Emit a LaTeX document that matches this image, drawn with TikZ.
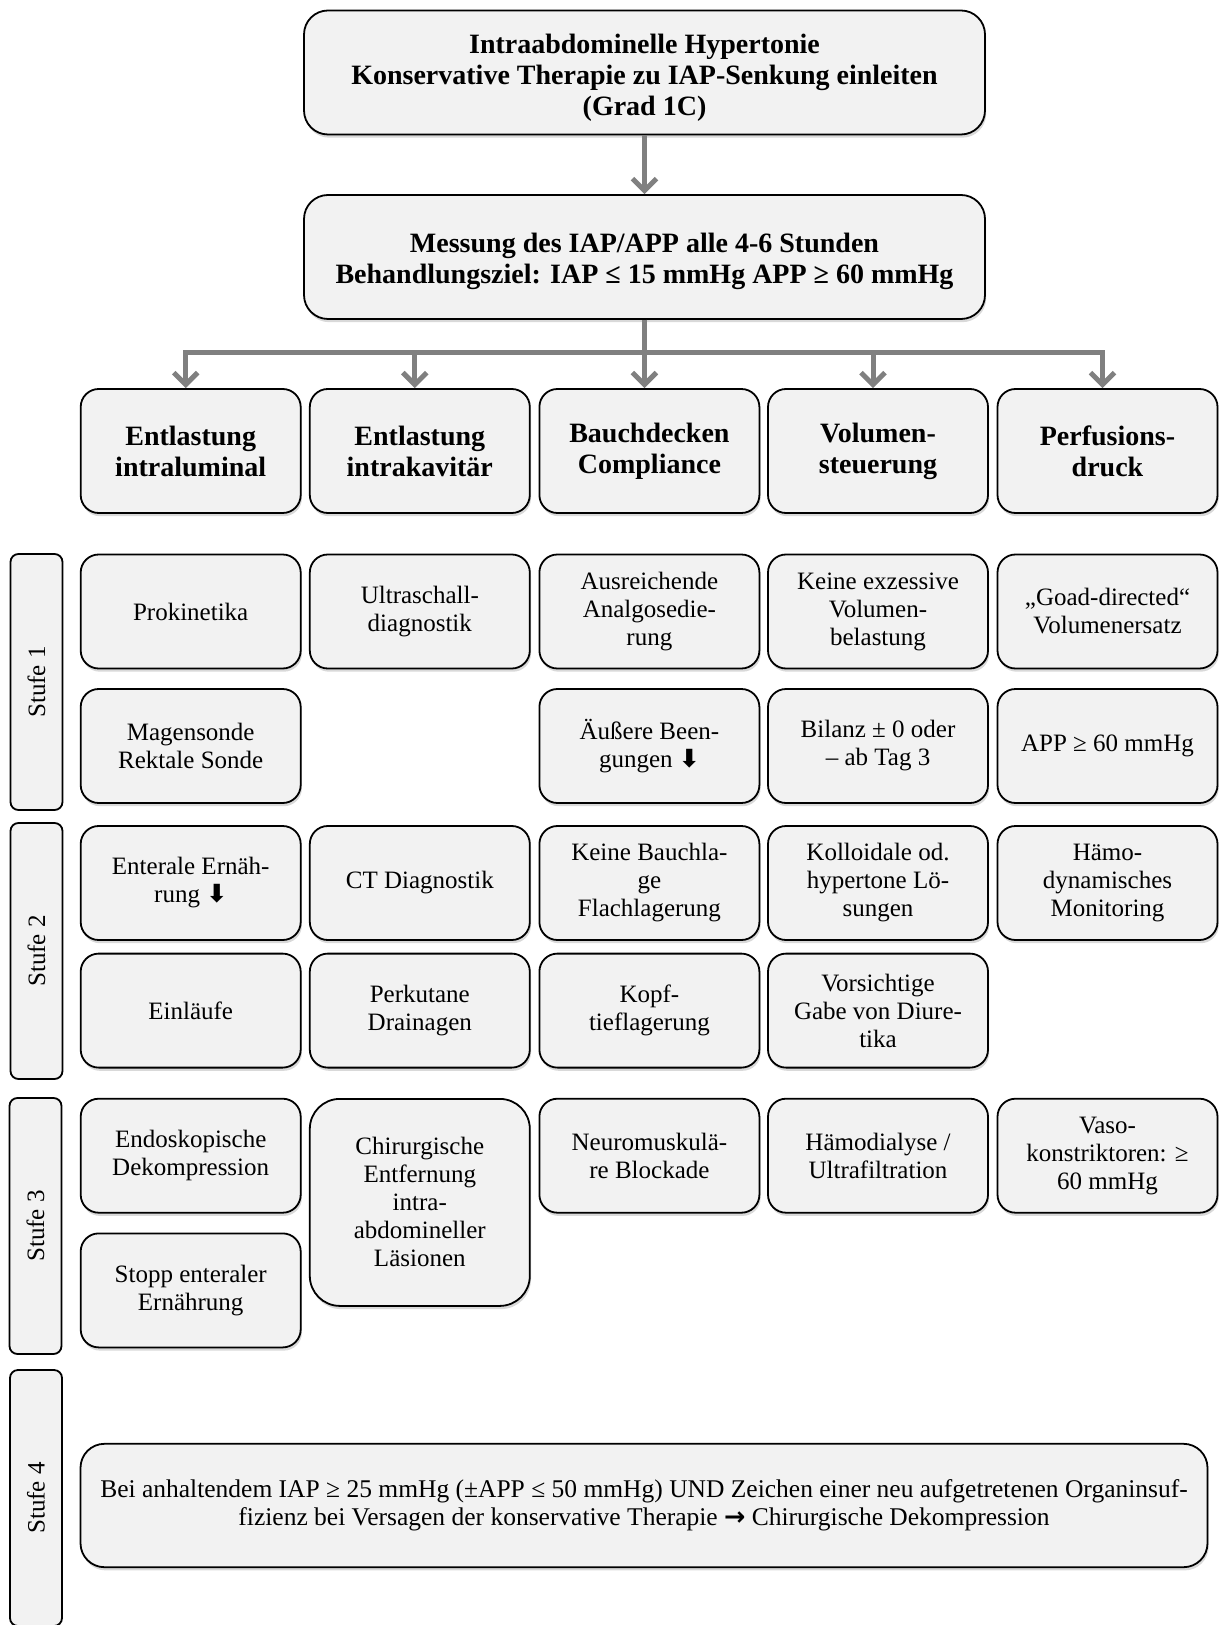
\documentclass[tikz,border=0pt]{standalone}
\usepackage{fontspec}
\setmainfont{Liberation Serif}
\newfontfamily\arrowfont{DejaVu Sans}
\usetikzlibrary{arrows.meta,positioning,shadows}

\definecolor{boxfill}{HTML}{F2F2F2}
\definecolor{linkgray}{HTML}{808080}

\newcommand{\dnarrow}{{\arrowfont\bfseries ⬇}}
\newcommand{\rtarrow}{{\arrowfont\bfseries →}}

\begin{document}
\begin{tikzpicture}[
  x=0.5pt, y=-0.5pt,
  font=\fontsize{12.5}{14}\selectfont,
  cell/.style={draw=black, fill=boxfill, line width=0.9pt, rounded corners=9pt,
               minimum width=110pt, minimum height=57pt, align=center,
               inner sep=2pt,
               drop shadow={shadow xshift=0.6pt, shadow yshift=-1.6pt,
                            opacity=0.3}},
  hdr/.style={cell, minimum height=62pt,
              font=\fontsize{14}{15.5}\selectfont\bfseries},
  titlebox/.style={hdr, minimum width=340.5pt, rounded corners=12pt},
  stage/.style={draw=black, fill=boxfill, line width=0.9pt, rounded corners=4pt,
                minimum width=128pt, minimum height=26pt, inner sep=1pt,
                rotate=90},
  link/.style={-{Straight Barb[length=6pt, width=12pt]}, linkgray,
               line width=2.5pt},
]
\useasboundingbox (0,0) rectangle (1220,1625);
\clip (0,0) rectangle (1220,1625);

% ---------------- title and measurement ---------------------------------
\node[titlebox, text height=46pt] (ttl) at (644.5, 72.5)
  {Intraabdominelle Hypertonie\\Konservative Therapie zu IAP-Senkung einleiten\\(Grad 1C)};
\node[titlebox, text height=29.5pt] (meas) at (644.5, 257)
  {Messung des IAP/APP alle 4-6 Stunden\\Behandlungsziel: IAP ≤ 15 mmHg APP ≥ 60 mmHg};

% ---------------- column heads ------------------------------------------
\foreach \c/\x/\t in {1/190.7/{Entlastung\\intraluminal},
                      2/419.8/{Entlastung\\intrakavitär},
                      3/649.4/{Bauchdecken\\Compliance},
                      4/878.0/{Volumen-\\steuerung},
                      5/1107.5/{Perfusions-\\druck}} {
  \node[hdr] (h\c) at (\x, 451) {\t};
}

% ---------------- arrows ------------------------------------------------
\draw[link] (ttl) -- (meas);
\foreach \c in {1,...,5} {
  \draw[link] (meas.south) -- ++(0, 33) -| ([xshift=-2.5pt]h\c.north);
}

% ---------------- stage labels ------------------------------------------
\node[stage] (st1) at (36.5, 682) {Stufe 1};
\node[stage] (st2) at (36.5, 951) {Stufe 2};
\node[stage] (st3) at (35.5, 1226) {Stufe 3};
\node[stage] (st4) at (36, 1498) {Stufe 4};

% ---------------- Stufe 1 -----------------------------------------------
\node[cell] (a1) at (190.7, 611.5) {Prokinetika};
\node[cell] (a2) at (419.8, 611.5) {Ultraschall-\\diagnostik};
\node[cell] (a3) at (649.4, 611.5) {Ausreichende\\Analgosedie-\\rung};
\node[cell] (a4) at (878.0, 611.5) {Keine exzessive\\Volumen-\\belastung};
\node[cell] (a5) at (1107.5, 611.5) {„Goad-directed“\\Volumenersatz};

\node[cell] (b1) at (190.7, 746) {Magensonde\\Rektale Sonde};
\node[cell] (b3) at (649.4, 746) {Äußere Been-\\gungen \dnarrow};
\node[cell] (b4) at (878.0, 746) {Bilanz ± 0 oder\\– ab Tag 3};
\node[cell] (b5) at (1107.5, 746) {APP ≥ 60 mmHg};

% ---------------- Stufe 2 -----------------------------------------------
\node[cell] (c1) at (190.7, 883) {Enterale Ernäh-\\rung \dnarrow};
\node[cell] (c2) at (419.8, 883) {CT Diagnostik};
\node[cell] (c3) at (649.4, 883) {Keine Bauchla-\\ge\\Flachlagerung};
\node[cell] (c4) at (878.0, 883) {Kolloidale od.\\hypertone Lö-\\sungen};
\node[cell] (c5) at (1107.5, 883) {Hämo-\\dynamisches\\Monitoring};

\node[cell] (d1) at (190.7, 1010.6) {Einläufe};
\node[cell] (d2) at (419.8, 1010.6) {Perkutane\\Drainagen};
\node[cell] (d3) at (649.4, 1010.6) {Kopf-\\tieflagerung};
\node[cell] (d4) at (878.0, 1010.6) {Vorsichtige\\Gabe von Diure-\\tika};

% ---------------- Stufe 3 -----------------------------------------------
\node[cell] (e1) at (190.7, 1155.7) {Endoskopische\\Dekompression};
\node[cell, minimum height=103.5pt, rounded corners=15pt] (e2) at (419.8, 1202.4)
  {Chirurgische\\Entfernung\\intra-\\abdomineller\\Läsionen};
\node[cell] (e3) at (649.4, 1155.7) {Neuromuskulä-\\re Blockade};
\node[cell] (e4) at (878.0, 1155.7) {Hämodialyse /\\Ultrafiltration};
\node[cell] (e5) at (1107.5, 1155.7) {Vaso-\\konstriktoren: ≥\\60 mmHg};

\node[cell] (f1) at (190.7, 1290.4) {Stopp enteraler\\Ernährung};

% ---------------- Stufe 4 -----------------------------------------------
\node[cell, minimum width=563.5pt, minimum height=61.7pt, rounded corners=12pt,
      font=\fontsize{12.75}{14}\selectfont]
  (g1) at (644, 1505.5)
  {Bei anhaltendem IAP ≥ 25 mmHg (±APP ≤ 50 mmHg) UND Zeichen einer neu aufgetretenen Organinsuf-\\fizienz bei Versagen der konservative Therapie \rtarrow{} Chirurgische Dekompression};

\end{tikzpicture}
\end{document}
